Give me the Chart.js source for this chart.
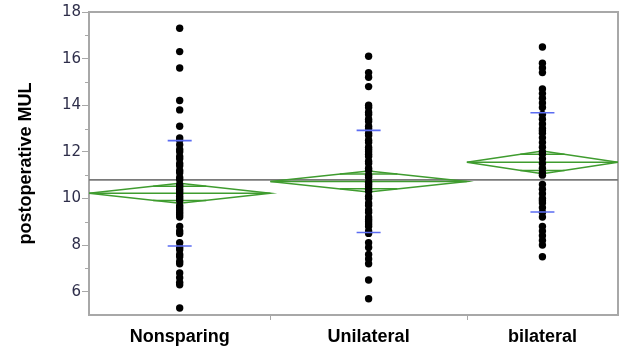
<!DOCTYPE html>
<html>
<head>
<meta charset="utf-8">
<script src="https://cdn.jsdelivr.net/npm/chart.js@4/dist/chart.umd.min.js"></script>
<style>
    html, body { margin: 0; padding: 0; background: #fff; }
</style>
</head>
<body>
<canvas id="mulChart" width="624" height="350"></canvas>
<script>
// Group names and the individual postoperative MUL values
const groups = ['Nonsparing', 'Unilateral', 'bilateral'];
const nonsparing = [17.3, 16.3, 15.6, 14.2, 13.8, 13.1, 12.6, 12.5, 12.3, 12.1, 12.0, 11.8, 11.7, 11.5, 11.4, 11.2,
    11.1, 10.9, 10.8, 10.6, 10.5, 10.4, 10.3, 10.2, 10.1, 10.0, 9.9, 9.7, 9.6, 9.5, 9.4, 9.3, 9.2,
    8.8, 8.6, 8.5, 8.1, 7.9, 7.8, 7.6, 7.5, 7.3, 7.2, 6.8, 6.6, 6.4, 6.3, 5.3];
const unilateral = [16.1, 15.4, 15.2, 14.8, 14.0, 13.9, 13.7, 13.6, 13.4, 13.3, 13.1, 13.0, 12.8, 12.7, 12.5, 12.4,
    12.2, 12.1, 12.0, 11.9, 11.8, 11.6, 11.5, 11.3, 11.2, 11.0, 10.9, 10.7, 10.6, 10.5, 10.4, 10.3, 10.1, 10.0,
    9.8, 9.7, 9.5, 9.4, 9.2, 9.1, 9.0, 8.9, 8.8, 8.6, 8.5, 8.1, 7.9, 7.6, 7.4, 7.2, 6.5, 5.7];
const bilateral = [16.5, 15.8, 15.6, 15.4, 14.7, 14.5, 14.3, 14.1, 13.9, 13.6, 13.4, 13.2, 13.0, 12.9, 12.8, 12.6,
    12.4, 12.2, 12.0, 11.9, 11.7, 11.5, 11.3, 11.1, 11.0, 10.6, 10.4, 10.2, 10.0, 9.9, 9.8, 9.6, 9.4, 9.2,
    8.8, 8.6, 8.4, 8.2, 8.0, 7.5];

// Summary stats shown on the plot
const groupMeans = [10.22, 10.73, 11.55];
const groupCI = [0.43, 0.45, 0.49];      // half height of the means diamonds
const groupSD = [2.26, 2.19, 2.13];      // blue std dev marks
const grandMean = 10.8;
const yTicks = [6, 8, 10, 12, 14, 16, 18];
const yMinorTicks = [7, 9, 11, 13, 15, 17];

const green = '#3f9c2f';
const frameGray = '#a8a8a8';

// group width along x follows its sample size (JMP style)
const groupValues = [nonsparing, unilateral, bilateral];
const sizes = groupValues.map(v => v.length);
const edges = [0];
sizes.forEach(n => edges.push(edges[edges.length - 1] + n));
const centers = sizes.map((n, i) => edges[i] + n / 2);
const total = edges[edges.length - 1];

const datasets = [];

// overall mean line
datasets.push({
    data: [{ x: 0, y: grandMean }, { x: total, y: grandMean }],
    showLine: true, borderColor: '#7a7a7a', borderWidth: 1.8, pointRadius: 0, order: 4
});

groups.forEach((g, i) => {
    const l = edges[i], r = edges[i + 1], c = centers[i];
    const m = groupMeans[i], ci = groupCI[i];
    const k = Math.SQRT1_2;
    const inner = (r - l) / 2 * (1 - k);
    const lines = [
        // diamond outline
        [{ x: l, y: m }, { x: c, y: m + ci }, { x: r, y: m }, { x: c, y: m - ci }, { x: l, y: m }],
        // mean line
        [{ x: l, y: m }, { x: r, y: m }],
        // overlap marks
        [{ x: c - inner, y: m + ci * k }, { x: c + inner, y: m + ci * k }],
        [{ x: c - inner, y: m - ci * k }, { x: c + inner, y: m - ci * k }]
    ];
    lines.forEach(pts => {
        datasets.push({
            data: pts, showLine: true, borderColor: green, borderWidth: 1.5,
            pointRadius: 0, order: 3
        });
    });

    // individual points
    datasets.push({
        data: groupValues[i].map(v => ({ x: c, y: v })),
        backgroundColor: '#000', borderWidth: 0, pointRadius: 3.7, order: 1
    });
});

// frame, minor y ticks and the group boundary ticks
const framePlugin = {
    id: 'frame',
    beforeDatasetsDraw(chart) {
        const { ctx, chartArea: a, scales } = chart;
        ctx.save();
        ctx.strokeStyle = frameGray;
        ctx.lineWidth = 2;
        ctx.beginPath();
        ctx.moveTo(a.left, a.top);
        ctx.lineTo(a.right, a.top);
        ctx.lineTo(a.right, a.bottom);
        ctx.stroke();

        ctx.lineWidth = 1;
        ctx.beginPath();
        yMinorTicks.forEach(v => {
            const y = Math.round(scales.y.getPixelForValue(v)) + 0.5;
            ctx.moveTo(a.left - 4, y);
            ctx.lineTo(a.left, y);
        });
        edges.slice(1, -1).forEach(v => {
            const x = Math.round(scales.x.getPixelForValue(v)) + 0.5;
            ctx.moveTo(x, a.bottom);
            ctx.lineTo(x, a.bottom + 5);
        });
        ctx.stroke();
        ctx.restore();
    },
    // std dev marks, drawn over the points
    afterDatasetsDraw(chart) {
        const { ctx, scales } = chart;
        ctx.save();
        ctx.strokeStyle = '#5b6cf2';
        ctx.lineWidth = 1.6;
        ctx.beginPath();
        centers.forEach((c, i) => {
            const x = scales.x.getPixelForValue(c);
            [groupMeans[i] + groupSD[i], groupMeans[i] - groupSD[i]].forEach(v => {
                const y = scales.y.getPixelForValue(v);
                ctx.moveTo(x - 12, y);
                ctx.lineTo(x + 12, y);
            });
        });
        ctx.stroke();
        ctx.restore();
    }
};

const ctx = document.getElementById('mulChart').getContext('2d');
const mulChart = new Chart(ctx, {
    type: 'scatter',
    data: { datasets: datasets },
    options: {
        responsive: false,
        animation: false,
        devicePixelRatio: 1,
        layout: { padding: { top: 12, right: 6, left: 0, bottom: 0 } },
        plugins: {
            legend: { display: false },
            tooltip: { enabled: false }
        },
        scales: {
            x: {
                type: 'linear',
                min: 0,
                max: total,
                afterBuildTicks: s => { s.ticks = centers.map(v => ({ value: v })); },
                afterFit: s => {
                    s.height = 35;
                    s.paddingLeft = 0;
                    s.paddingRight = 0;
                },
                ticks: {
                    callback: (v, i) => groups[i],
                    autoSkip: false,
                    maxRotation: 0,
                    padding: 3,
                    color: '#000',
                    font: { family: 'Liberation Sans', size: 18, weight: 'bold' }
                },
                grid: { display: false },
                border: { color: frameGray, width: 2 }
            },
            y: {
                min: 5,
                max: 18,
                afterBuildTicks: s => { s.ticks = yTicks.map(v => ({ value: v })); },
                afterFit: s => {
                    s.width = 89;
                    s.paddingTop = 0;
                    s.paddingBottom = 0;
                },
                ticks: {
                    padding: 1,
                    color: '#2e2e4a',
                    font: { family: 'DejaVu Sans', size: 15 }
                },
                grid: { drawOnChartArea: false, tickLength: 7, tickColor: frameGray, tickWidth: 1 },
                border: { color: frameGray, width: 2 },
                title: {
                    display: true,
                    text: 'postoperative MUL',
                    color: '#000',
                    padding: { top: 15, bottom: 0 },
                    font: { family: 'Liberation Sans', size: 18, weight: 'bold' }
                }
            }
        }
    },
    plugins: [framePlugin]
});
</script>
</body>
</html>
